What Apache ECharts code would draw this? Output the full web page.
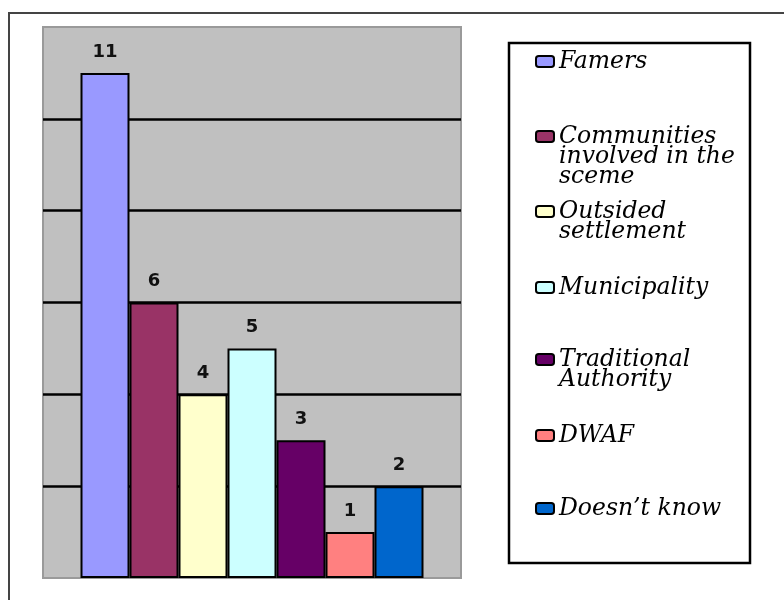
<!DOCTYPE html>
<html>
<head>
<meta charset="utf-8">
<script src="https://cdn.jsdelivr.net/npm/echarts@6/dist/echarts.min.js"></script>
<style>
  html, body { margin: 0; padding: 0; background: #fff; }
  #main { width: 784px; height: 600px; }
</style>
</head>
<body>
<div id="main"></div>
<script>
// chart data
var categories = ['Famers', 'Communities involved in the sceme', 'Outsided settlement', 'Municipality',
  'Traditional Authority', 'DWAF', 'Doesn\u2019t know'];
var counts = [11, 6, 4, 5, 3, 1, 2];
var colors = ['#9999ff', '#993366', '#ffffcc', '#ccffff', '#660066', '#ff8080', '#0066cc'];
// legend text as it wraps in the picture
var legendLines = ['Famers', 'Communities\ninvolved in the\nsceme', 'Outsided\nsettlement', 'Municipality',
  'Traditional\nAuthority', 'DWAF', 'Doesn\u2019t know'];
// centre of each legend icon
var legendCentres = [60, 135, 210, 286, 358, 434, 507];

const chart = echarts.init(document.getElementById('main'), null, {
  renderer: 'canvas'
});

var lineH = 20;

// one legend per item, so each can sit at its own height
var legends = categories.map(function (name, i) {
  var lines = legendLines[i].split('\n').length;
  // blank lines on top keep the first line level with the icon
  var pad = new Array(lines).join('\n');
  return {
    data: [name],
    orient: 'vertical',
    left: 535,
    top: legendCentres[i] - (2 * lines - 1) * lineH / 2,
    padding: 0,
    itemWidth: 18,
    itemHeight: 11,
    icon: 'roundRect',
    selectedMode: false,
    itemStyle: {
      borderColor: '#000',
      borderWidth: 2
    },
    textStyle: {
      fontFamily: 'DejaVu Serif',
      fontStyle: 'italic',
      fontSize: 23.5,
      lineHeight: lineH,
      color: '#000'
    },
    formatter: function () {
      return pad + legendLines[i];
    }
  };
});

var series = categories.map(function (name, i) {
  return {
    name: name,
    type: 'bar',
    barWidth: 49,
    barGap: '0%',
    data: [counts[i]],
    itemStyle: {
      color: colors[i],
      borderColor: '#000',
      borderWidth: 2
    },
    label: {
      show: true,
      position: 'top',
      distance: 12,
      fontFamily: 'DejaVu Sans',
      fontWeight: 'bold',
      fontSize: 18,
      color: '#111'
    }
  };
});

var option = {
  backgroundColor: '#fff',
  animation: false,
  graphic: [{
    // outer frame
    type: 'rect',
    shape: { x: 9, y: 13, width: 800, height: 620 },
    style: { fill: 'none', stroke: '#444', lineWidth: 2 }
  }, {
    // legend box
    type: 'rect',
    shape: { x: 509, y: 43, width: 241, height: 520 },
    style: { fill: '#fff', stroke: '#000', lineWidth: 2.5 }
  }],
  legend: legends,
  grid: {
    left: 43,
    top: 27,
    width: 418,
    height: 551,
    show: true,
    backgroundColor: '#c0c0c0',
    borderColor: '#9a9a9a',
    borderWidth: 2
  },
  xAxis: {
    type: 'category',
    data: [''],
    axisLine: { show: false },
    axisTick: { show: false },
    axisLabel: { show: false }
  },
  yAxis: {
    type: 'value',
    min: 0,
    max: 12,
    interval: 2,
    axisLine: { show: false },
    axisTick: { show: false },
    axisLabel: { show: false },
    splitLine: {
      show: true,
      showMinLine: false,
      showMaxLine: false,
      lineStyle: {
        color: '#000',
        width: 2.5
      }
    }
  },
  series: series
};

chart.setOption(option);
</script>
</body>
</html>
